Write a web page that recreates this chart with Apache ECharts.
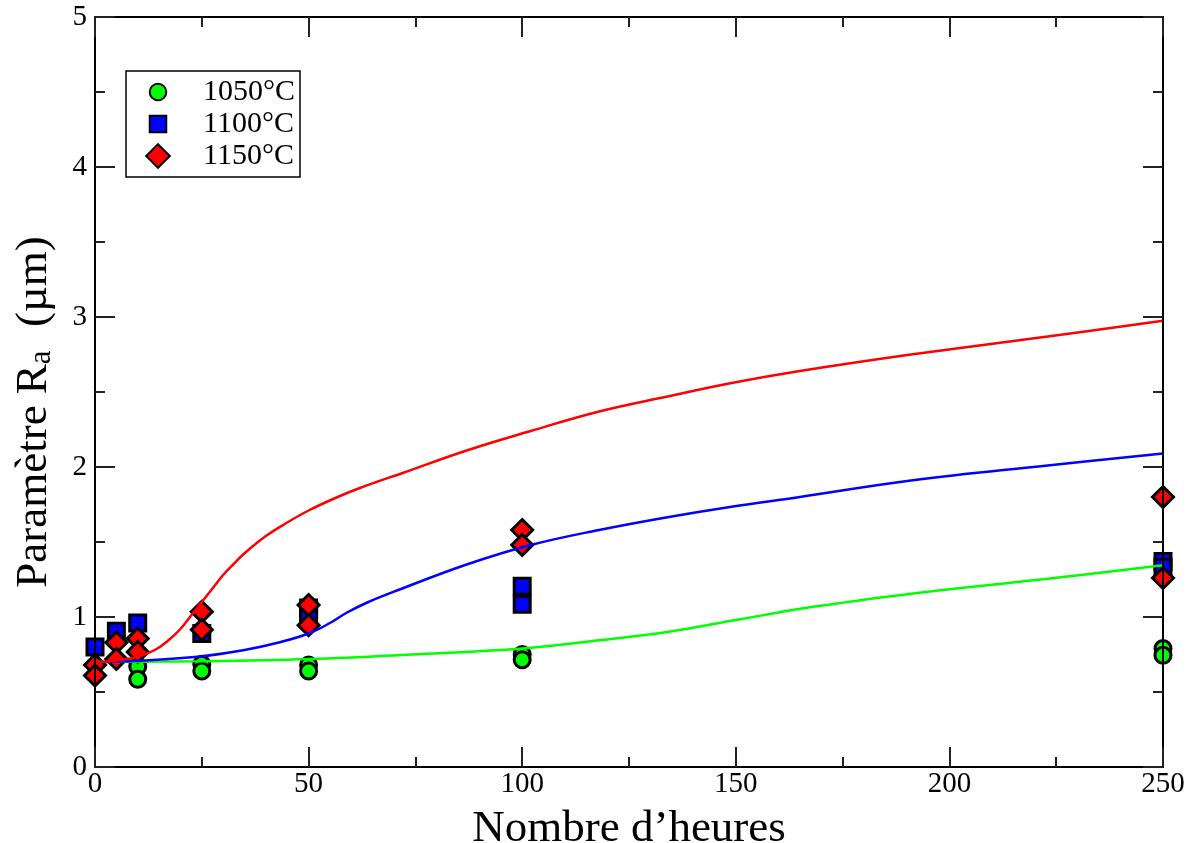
<!DOCTYPE html>
<html>
<head>
<meta charset="utf-8">
<script src="https://cdn.jsdelivr.net/npm/echarts@6/dist/echarts.min.js"></script>
<style>
html,body{margin:0;padding:0;background:#fff;}
#chart{width:1195px;height:843px;}
</style>
</head>
<body>
<div id="chart"></div>
<script>
// ---- Data ----
const seriesNames = ['1050°C', '1100°C', '1150°C'];

// measured points [hours, Ra]
const pts1050 = [[10,0.67],[10,0.585],[25,0.685],[25,0.64],[50,0.68],[50,0.64],[100,0.75],[100,0.715],[250,0.79],[250,0.745]];
const pts1100 = [[0,0.80],[5,0.905],[10,0.96],[25,0.89],[50,1.06],[50,0.99],[100,1.205],[100,1.085],[250,1.37],[250,1.33]];
const pts1150 = [[0,0.68],[0,0.61],[5,0.83],[5,0.72],[10,0.856],[10,0.767],[25,1.035],[25,0.915],[50,1.08],[50,0.945],[100,1.58],[100,1.48],[250,1.80],[250,1.26]];

// model curves
const curveX1050 = [0, 25, 50, 74, 100, 118, 134, 149, 160, 165, 191, 223, 250];
const curveY1050 = [0.70, 0.705, 0.72, 0.75, 0.79, 0.845, 0.90, 0.975, 1.03, 1.055, 1.155, 1.255, 1.345];
const curveX1100 = [0, 8, 24, 35, 43, 50, 55, 59, 64, 71, 87, 102, 118, 134, 149, 165, 191, 223, 250];
const curveY1100 = [0.70, 0.705, 0.735, 0.78, 0.83, 0.89, 0.96, 1.03, 1.10, 1.18, 1.35, 1.48, 1.58, 1.665, 1.735, 1.80, 1.91, 2.01, 2.09];
const curveX1150 = [0, 5, 10, 14, 17, 20, 22.5, 25, 27.5, 30, 32.5, 35, 40, 45, 50, 56, 62, 72, 87, 102, 118, 134, 149, 165, 191, 223, 250];
const curveY1150 = [0.70, 0.71, 0.735, 0.78, 0.84, 0.92, 1.01, 1.10, 1.19, 1.28, 1.355, 1.425, 1.54, 1.63, 1.71, 1.79, 1.86, 1.96, 2.11, 2.24, 2.37, 2.47, 2.56, 2.64, 2.75, 2.87, 2.975];

const xTicks = [0, 50, 100, 150, 200, 250];
const yTicks = [0, 1, 2, 3, 4, 5];

// ---- Build ----
const FONT = 'Liberation Serif';
const zip = (xs, ys) => xs.map((x, i) => [x, ys[i]]);

// legend icons padded inside a 22x22 box so they keep their relative sizes
const ICON_CIRCLE = 'path://M0,0 M22,22 M18,11 A7,7 0 1,1 4,11 A7,7 0 1,1 18,11 Z';
const ICON_RECT = 'path://M0,0 M22,22 M4,4 L18,4 L18,18 L4,18 Z';
const ICON_DIAMOND = 'path://M0,0 M22,22 M11,1 L21,11 L11,21 L1,11 Z';

function axisCommon(extra) {
  return Object.assign({
    type: 'value',
    axisLine: { show: true, onZero: false, lineStyle: { color: '#000', width: 2 } },
    axisTick: { show: true, inside: true, length: 20, lineStyle: { color: '#222', width: 2 } },
    minorTick: { show: true, splitNumber: 2, length: 10, lineStyle: { color: '#222', width: 2 } },
    splitLine: { show: false },
    minorSplitLine: { show: false },
    z: 10
  }, extra);
}

const chart = echarts.init(document.getElementById('chart'), null, { renderer: 'canvas' });

const option = {
  backgroundColor: '#fff',
  animation: false,
  grid: { left: 95, right: 32, top: 17, bottom: 76, containLabel: false, outerBoundsMode: 'none' },
  legend: {
    data: [
      { name: seriesNames[0], icon: ICON_CIRCLE },
      { name: seriesNames[1], icon: ICON_RECT },
      { name: seriesNames[2], icon: ICON_DIAMOND }
    ],
    orient: 'vertical',
    left: 126,
    top: 71,
    padding: [6, 5, 6, 18],
    itemGap: 2,
    itemWidth: 26,
    itemHeight: 26,
    borderColor: '#000',
    borderWidth: 1.5,
    backgroundColor: '#fff',
    textStyle: { fontFamily: FONT, fontSize: 30, color: '#000', lineHeight: 30, padding: [0, 0, 0, 27] }
  },
  xAxis: [
    axisCommon({
      min: xTicks[0], max: xTicks[xTicks.length - 1], interval: 50,
      position: 'bottom',
      name: 'Nombre d\u2019heures',
      nameLocation: 'middle',
      nameGap: 40,
      nameTextStyle: { fontFamily: FONT, fontSize: 45, color: '#000' },
      axisLabel: { show: true, margin: 3, fontFamily: FONT, fontSize: 29, color: '#000' }
    }),
    axisCommon({
      min: xTicks[0], max: xTicks[xTicks.length - 1], interval: 50,
      position: 'top',
      axisLabel: { show: false }
    })
  ],
  yAxis: [
    axisCommon({
      min: yTicks[0], max: yTicks[yTicks.length - 1], interval: 1,
      position: 'left',
      name: 'Paramètre R{sub|a} (µm)',
      nameLocation: 'middle',
      nameGap: 38,
      nameRotate: 90,
      nameTextStyle: {
        fontFamily: FONT, fontSize: 45, color: '#000', padding: [0, 40, 0, 0],
        rich: { sub: { fontFamily: FONT, fontSize: 31, color: '#000', verticalAlign: 'bottom', lineHeight: 26, padding: [0, 12, 0, 0] } }
      },
      axisLabel: { show: true, margin: 8, fontFamily: FONT, fontSize: 29, color: '#000' }
    }),
    axisCommon({
      min: yTicks[0], max: yTicks[yTicks.length - 1], interval: 1,
      position: 'right',
      axisLabel: { show: false }
    })
  ],
  series: [
    {
      name: seriesNames[0], type: 'scatter', data: pts1050,
      symbol: 'circle', symbolSize: 16, clip: false, z: 3,
      itemStyle: { color: '#00ff00', borderColor: '#000', borderWidth: 3, opacity: 1 }
    },
    {
      name: seriesNames[1], type: 'scatter', data: pts1100,
      symbol: 'rect', symbolSize: 16, clip: false, z: 4,
      itemStyle: { color: '#0000ff', borderColor: '#000', borderWidth: 3, opacity: 1 }
    },
    {
      name: seriesNames[2], type: 'scatter', data: pts1150,
      symbol: 'diamond', symbolSize: 21, clip: false, z: 5,
      itemStyle: { color: '#ff0000', borderColor: '#000', borderWidth: 3, opacity: 1 }
    },
    {
      name: 'modèle 1050', type: 'line', data: zip(curveX1050, curveY1050),
      smooth: 0.4, showSymbol: false, z: 6,
      lineStyle: { color: '#00ff00', width: 2.5 }
    },
    {
      name: 'modèle 1100', type: 'line', data: zip(curveX1100, curveY1100),
      smooth: 0.4, showSymbol: false, z: 6,
      lineStyle: { color: '#0000ff', width: 2.5 }
    },
    {
      name: 'modèle 1150', type: 'line', data: zip(curveX1150, curveY1150),
      smooth: 0.4, showSymbol: false, z: 6,
      lineStyle: { color: '#ff0000', width: 2.5 }
    }
  ]
};

chart.setOption(option);
</script>
</body>
</html>
